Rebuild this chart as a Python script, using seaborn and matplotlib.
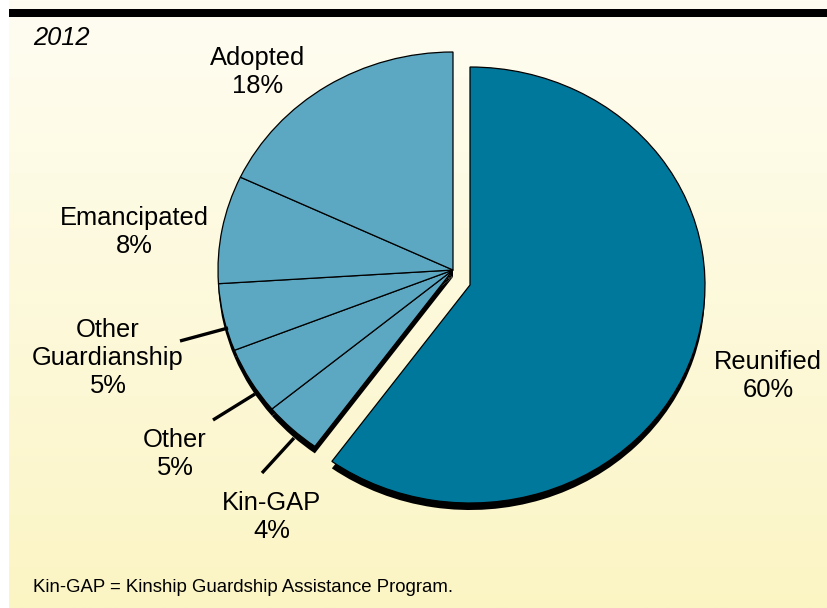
import numpy as np
import seaborn as sns
import matplotlib.pyplot as plt
from matplotlib.colors import LinearSegmentedColormap

# data (clockwise from 12 o'clock)
categories = ['Reunified', 'Kin-GAP', 'Other', 'Other\nGuardianship', 'Emancipated', 'Adopted']
shares = [60, 4, 5, 5, 8, 18]
year_label = '2012'
note = 'Kin-GAP = Kinship Guardship Assistance Program.'

sns.set_theme(style='white')
plt.rcParams['font.family'] = ['Liberation Sans', 'DejaVu Sans']
plt.rcParams['text.color'] = 'black'

W, H = 827, 608
fig = plt.figure(figsize=(W / 100, H / 100), dpi=100)
fig.patch.set_facecolor('white')

# background: cream gradient + black rule on top
bg = fig.add_axes([0, 0, 1, 1], zorder=0)
bg.set_xlim(0, W)
bg.set_ylim(H, 0)
bg.axis('off')
cmap = LinearSegmentedColormap.from_list('bg', ['#FFFDF2', '#FBF5C4'])
bg.imshow(np.linspace(0, 1, 256)[:, None], cmap=cmap, aspect='auto',
          extent=[9, W, H, 0], zorder=0)
bg.fill_between([9, W], 9, 16.5, color='black', lw=0, zorder=1)

# pie axes: ellipse via different unit scales in x and y
cx, cy = 453, 270
sx, sy = 235, 218
ax = fig.add_axes([0, 0, 1, 1], zorder=1)
ax.patch.set_alpha(0)

teal = '#00789C'
light = '#5CA8C2'
pal = sns.color_palette([teal] + [light] * 5)

depth = 7 / sy
reun_shift = ((470 - cx) / sx, -(285 - cy) / sy)

shadow, _ = ax.pie(shares, startangle=90, counterclock=False, colors=['black'] * 6,
                   center=(0, -depth), wedgeprops=dict(linewidth=0))
wedges, _ = ax.pie(shares, startangle=90, counterclock=False, colors=pal,
                   wedgeprops=dict(edgecolor='black', linewidth=0.9))
shadow[0].set_center((reun_shift[0], reun_shift[1] - depth))
wedges[0].set_center(reun_shift)

ax.set_aspect('auto')
ax.set_xlim(-cx / sx, (W - cx) / sx)
ax.set_ylim(-(H - cy) / sy, cy / sy)
ax.axis('off')

# overlay for labels in pixel coords
ov = fig.add_axes([0, 0, 1, 1], zorder=2)
ov.set_xlim(0, W)
ov.set_ylim(H, 0)
ov.axis('off')
ov.patch.set_alpha(0)

label_xy = [(768, 376), (272, 517), (175, 454), (108, 358), (134, 232), (258, 72)]
for cat, val, (lx, ly) in zip(categories, shares, label_xy):
    ov.text(lx, ly, f'{cat}\n{val}%', ha='center', va='center', fontsize=18.4,
            linespacing=1.22, color='black')

leaders = [((262, 473), (294, 438)), ((213, 420), (255, 394)), ((180, 341), (228, 328))]
for (x0, y0), (x1, y1) in leaders:
    ov.plot([x0, x1], [y0, y1], color='black', lw=2.4, solid_capstyle='butt')

ov.text(33, 38, year_label, fontsize=18.4, style='italic', ha='left', va='center',
        color='black')
ov.text(33, 587, note, fontsize=13.4, ha='left', va='center', color='black')

fig.savefig('out.png', dpi=100, facecolor=fig.get_facecolor())
